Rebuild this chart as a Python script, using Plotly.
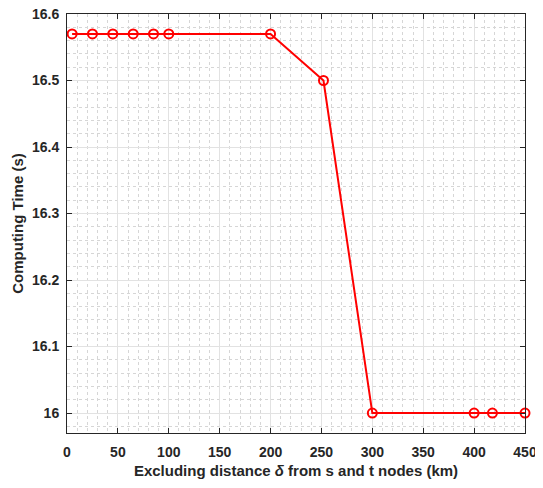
import plotly.graph_objects as go

x_vals = [5, 25, 45, 65, 85, 100, 200, 252, 300, 400, 418, 450]
y_vals = [16.57, 16.57, 16.57, 16.57, 16.57, 16.57, 16.57, 16.5, 16.0, 16.0, 16.0, 16.0]
x_ticks = [0, 50, 100, 150, 200, 250, 300, 350, 400, 450]
y_ticks = [16, 16.1, 16.2, 16.3, 16.4, 16.5, 16.6]
y_tick_text = ["16", "16.1", "16.2", "16.3", "16.4", "16.5", "16.6"]

font_family = "Liberation Sans, Arial, sans-serif"
dark = "#262626"

fig = go.Figure()
fig.add_trace(go.Scatter(
    x=x_vals, y=y_vals, mode="lines+markers",
    line=dict(color="#ff0000", width=2),
    marker=dict(symbol="circle-open", size=9, color="#ff0000", line=dict(width=2)),
    showlegend=False, cliponaxis=False,
))

axis_common = dict(
    showline=True, linecolor=dark, linewidth=1, mirror="ticks",
    ticks="inside", ticklen=5, tickcolor=dark,
    showgrid=True, gridcolor="#e2e2e2", gridwidth=1,
    zeroline=False, automargin=False, ticklabeloverflow="allow",
    tickfont=dict(family=font_family, size=14, color=dark, weight="bold"),
)

fig.update_xaxes(
    range=[0, 450], tickvals=x_ticks, ticklabelstandoff=6,
    minor=dict(dtick=10, showgrid=True, gridcolor="#d6d6d6", griddash="dot", gridwidth=1, ticks=""),
    title=dict(text="Excluding distance <i>δ</i> from s and t nodes (km)",
               font=dict(family=font_family, size=15, color=dark, weight="bold"), standoff=6),
    **axis_common,
)
fig.update_yaxes(
    range=[15.97, 16.6], tickvals=y_ticks, ticktext=y_tick_text, ticklabelstandoff=4,
    minor=dict(dtick=0.02, tick0=16, showgrid=True, gridcolor="#d6d6d6", griddash="dot", gridwidth=1, ticks=""),
    title=dict(text="Computing Time (s)",
               font=dict(family=font_family, size=15, color=dark, weight="bold"), standoff=4),
    **axis_common,
)

fig.update_layout(
    width=535, height=472,
    margin=dict(l=59, r=18, t=6, b=47),
    plot_bgcolor="white", paper_bgcolor="white",
)

fig.write_html("out.html")
